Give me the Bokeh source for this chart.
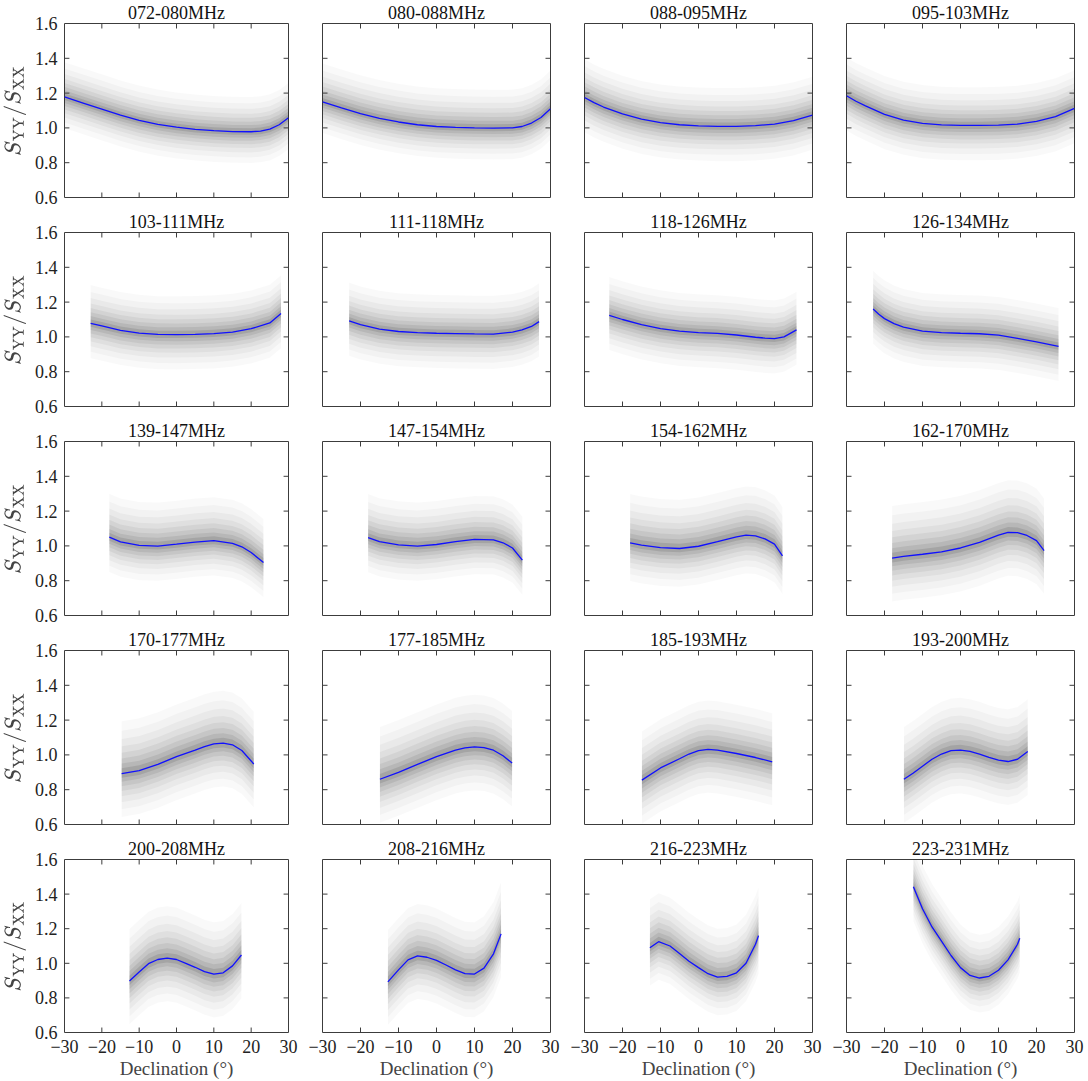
from bokeh.plotting import figure
from bokeh.layouts import gridplot
from bokeh.models import LinearAxis, FixedTicker, Range1d, PrintfTickFormatter
from bokeh.embed import file_html
from bokeh.resources import INLINE

# Frequency sub-bands, one panel each
bands = [
    "072-080MHz", "080-088MHz", "088-095MHz", "095-103MHz",
    "103-111MHz", "111-118MHz", "118-126MHz", "126-134MHz",
    "139-147MHz", "147-154MHz", "154-162MHz", "162-170MHz",
    "170-177MHz", "177-185MHz", "185-193MHz", "193-200MHz",
    "200-208MHz", "208-216MHz", "216-223MHz", "223-231MHz",
]

# Declinations (deg) at which the fitted ratio curve is sampled
fit_dec = [
    [-30, -25, -20, -15, -10, -5, 0, 5, 10, 15, 20, 22.5, 25, 27.5, 30],
    [-30, -25, -20, -15, -10, -5, 0, 5, 10, 15, 20, 22.5, 25, 27.5, 30],
    [-30, -27.5, -25, -20, -15, -10, -5, 0, 5, 10, 15, 20, 25, 30],
    [-30, -27.5, -25, -20, -15, -10, -5, 0, 5, 10, 15, 20, 25, 30],
    [-23, -20, -15, -10, -5, 0, 5, 10, 15, 20, 25, 28],
    [-23, -20, -15, -10, -5, 0, 5, 10, 15, 20, 22.5, 25, 27],
    [-23.5, -20, -15, -10, -5, 0, 5, 10, 15, 17.5, 20, 22.5, 25.8],
    [-23, -21.5, -20, -17.5, -15, -10, -5, 0, 5, 10, 15, 20, 25.8],
    [-18, -15, -10, -5, 0, 5, 10, 15, 17.5, 20, 23.3],
    [-18, -15, -10, -5, 0, 5, 10, 15, 17.5, 20, 22.6],
    [-18, -15, -10, -5, 0, 5, 10, 12.5, 15, 17.5, 20, 22.1],
    [-18, -15, -10, -5, 0, 5, 10, 12.5, 15, 17.5, 20, 22],
    [-14.7, -10, -5, 0, 5, 7.5, 10, 12.5, 15, 17.5, 20.7],
    [-14.9, -10, -5, 0, 5, 7.5, 10, 12.5, 15, 17.5, 19.9],
    [-14.9, -10, -5, -2.5, 0, 2.5, 5, 10, 15, 19.4],
    [-14.9, -12.5, -10, -7.5, -5, -2.5, 0, 2.5, 5, 7.5, 10, 12.5, 15, 17.7],
    [-12.6, -10, -7.5, -5, -2.5, 0, 2.5, 5, 7.5, 10, 12.5, 15, 17.4],
    [-12.8, -10, -7.5, -5, -2.5, 0, 2.5, 5, 7.5, 10, 12.5, 15, 17],
    [-12.8, -10.5, -7.5, -5, -2.5, 0, 2.5, 5, 7.5, 10, 12.5, 15, 15.8],
    [-12.4, -10, -7.5, -5, -2.5, 0, 2.5, 5, 7.5, 10, 12.5, 15, 15.6],
]

# Fitted S_YY / S_XX ratio at those declinations
fit_ratio = [
    [1.178, 1.143, 1.108, 1.073, 1.043, 1.020, 1.004, 0.992, 0.984, 0.979, 0.978, 0.982, 0.993, 1.018, 1.058],
    [1.150, 1.115, 1.082, 1.055, 1.034, 1.018, 1.008, 1.003, 1.000, 0.999, 1.000, 1.008, 1.028, 1.060, 1.110],
    [1.175, 1.145, 1.120, 1.080, 1.050, 1.030, 1.018, 1.012, 1.009, 1.009, 1.013, 1.022, 1.042, 1.074],
    [1.185, 1.153, 1.127, 1.078, 1.045, 1.026, 1.017, 1.014, 1.014, 1.016, 1.022, 1.038, 1.065, 1.112],
    [1.078, 1.063, 1.038, 1.022, 1.014, 1.013, 1.015, 1.019, 1.028, 1.047, 1.080, 1.135],
    [1.092, 1.070, 1.045, 1.031, 1.025, 1.021, 1.019, 1.017, 1.016, 1.027, 1.040, 1.060, 1.088],
    [1.124, 1.100, 1.070, 1.048, 1.033, 1.025, 1.020, 1.011, 0.998, 0.993, 0.990, 1.000, 1.040],
    [1.160, 1.130, 1.105, 1.076, 1.056, 1.033, 1.025, 1.021, 1.018, 1.010, 0.992, 0.972, 0.946],
    [1.050, 1.023, 1.003, 0.999, 1.010, 1.022, 1.030, 1.015, 0.995, 0.962, 0.905],
    [1.048, 1.024, 1.006, 0.999, 1.008, 1.024, 1.037, 1.035, 1.018, 0.988, 0.918],
    [1.018, 1.004, 0.990, 0.985, 0.998, 1.024, 1.052, 1.062, 1.058, 1.040, 1.010, 0.943],
    [0.930, 0.940, 0.952, 0.966, 0.988, 1.020, 1.062, 1.078, 1.076, 1.060, 1.030, 0.973],
    [0.893, 0.910, 0.945, 0.990, 1.028, 1.048, 1.063, 1.068, 1.058, 1.025, 0.948],
    [0.860, 0.900, 0.945, 0.990, 1.028, 1.040, 1.046, 1.042, 1.027, 0.995, 0.953],
    [0.855, 0.925, 0.978, 1.005, 1.025, 1.032, 1.028, 1.008, 0.985, 0.960],
    [0.860, 0.895, 0.935, 0.975, 1.005, 1.024, 1.028, 1.020, 1.005, 0.986, 0.970, 0.962, 0.975, 1.020],
    [0.898, 0.950, 0.998, 1.022, 1.030, 1.022, 1.000, 0.977, 0.952, 0.937, 0.945, 0.985, 1.048],
    [0.893, 0.962, 1.020, 1.043, 1.035, 1.017, 0.990, 0.962, 0.940, 0.938, 0.972, 1.055, 1.170],
    [1.090, 1.125, 1.100, 1.057, 1.012, 0.975, 0.940, 0.920, 0.924, 0.945, 1.000, 1.110, 1.160],
    [1.443, 1.315, 1.210, 1.128, 1.045, 0.975, 0.930, 0.915, 0.925, 0.960, 1.020, 1.110, 1.145],
]

# Extent of the measured-source scatter above and below the fit
scatter_up = [0.20, 0.22, 0.22, 0.22, 0.22, 0.22, 0.22, 0.22,
              0.25, 0.25, 0.28, 0.30, 0.30, 0.30, 0.28, 0.30,
              0.30, 0.30, 0.28, 0.25]
scatter_down = [0.18, 0.18, 0.20, 0.20, 0.20, 0.20, 0.20, 0.20,
                0.20, 0.20, 0.22, 0.25, 0.25, 0.25, 0.25, 0.25,
                0.25, 0.25, 0.22, 0.20]

x_ticks = [-30, -20, -10, 0, 10, 20, 30]
y_ticks = [0.6, 0.8, 1.0, 1.2, 1.4, 1.6]

SERIF = "Liberation Serif"
FRAME = "#3c3c3c"
N_ROWS, N_COLS = 5, 4
FRAME_W, FRAME_H = 228, 174
X0, X1, Y0, Y1 = -30, 30, 0.6, 1.6
TICK_PX = 5

# density shells for the scatter haze: (fraction of extent, alpha)
shells = [(1.0, 0.022), (0.82, 0.028), (0.66, 0.034), (0.52, 0.04),
          (0.40, 0.05), (0.29, 0.06), (0.19, 0.075), (0.10, 0.10)]


def label_axis(ticks, overrides=None, formatter=None):
    ax = LinearAxis(ticker=FixedTicker(ticks=ticks))
    ax.axis_line_color = None
    ax.major_tick_in = 0
    ax.major_tick_out = 0
    ax.minor_tick_in = 0
    ax.minor_tick_out = 0
    ax.major_label_text_font = SERIF
    ax.major_label_text_font_size = "18px"
    ax.major_label_text_color = "#222222"
    ax.major_label_standoff = 7
    if overrides:
        ax.major_label_overrides = overrides
    if formatter is not None:
        ax.formatter = formatter
    return ax


def inward_ticks(p):
    # tick marks pointing into the frame on all four sides
    dy = TICK_PX / FRAME_H * (Y1 - Y0)
    dx = TICK_PX / FRAME_W * (X1 - X0)
    inner_x = [t for t in x_ticks if X0 < t < X1]
    inner_y = [t for t in y_ticks if Y0 < t < Y1]
    kw = dict(line_color=FRAME, line_width=1)
    p.segment(x0=inner_x, y0=[Y0] * len(inner_x), x1=inner_x, y1=[Y0 + dy] * len(inner_x), **kw)
    p.segment(x0=inner_x, y0=[Y1] * len(inner_x), x1=inner_x, y1=[Y1 - dy] * len(inner_x), **kw)
    p.segment(x0=[X0] * len(inner_y), y0=inner_y, x1=[X0 + dx] * len(inner_y), y1=inner_y, **kw)
    p.segment(x0=[X1] * len(inner_y), y0=inner_y, x1=[X1 - dx] * len(inner_y), y1=inner_y, **kw)


x_over = {t: (("\u2212" + str(-t)) if t < 0 else str(t)) for t in x_ticks}

rows = []
for r in range(N_ROWS):
    row = []
    for c in range(N_COLS):
        i = r * N_COLS + c
        left_b = 60 if c == 0 else 17
        right_b = 14 if c == N_COLS - 1 else 17
        top_b = 23
        bottom_b = 48 if r == N_ROWS - 1 else 12
        p = figure(
            width=left_b + FRAME_W + right_b,
            height=top_b + FRAME_H + bottom_b,
            x_range=Range1d(X0, X1), y_range=Range1d(Y0, Y1),
            x_axis_location=None, y_axis_location=None,
            output_backend="svg", toolbar_location=None,
            min_border_left=left_b, min_border_right=right_b,
            min_border_top=top_b, min_border_bottom=bottom_b,
        )
        p.grid.visible = False
        p.outline_line_color = FRAME
        p.outline_line_width = 1
        p.background_fill_color = "white"
        p.border_fill_color = "white"

        p.title.text = bands[i]
        p.title.align = "center"
        p.title.text_font = SERIF
        p.title.text_font_style = "normal"
        p.title.text_font_size = "18px"
        p.title.text_color = "#111111"
        p.title.standoff = 1

        if r == N_ROWS - 1:
            bottom = label_axis(x_ticks, overrides=x_over)
            bottom.axis_label = "Declination (\u00b0)"
            bottom.axis_label_text_font = SERIF
            bottom.axis_label_text_font_style = "normal"
            bottom.axis_label_text_font_size = "19px"
            bottom.axis_label_standoff = 2
            p.add_layout(bottom, "below")
        if c == 0:
            left = label_axis(y_ticks, formatter=PrintfTickFormatter(format="%.1f"))
            left.axis_label = r"$$S_{\mathrm{YY}}/S_{\mathrm{XX}}$$"
            left.axis_label_text_font_size = "18px"
            left.axis_label_standoff = 6
            p.add_layout(left, "left")

        xs = fit_dec[i]
        ys = fit_ratio[i]
        for frac, alpha in shells:
            lo = [y - frac * scatter_down[i] for y in ys]
            hi = [y + frac * scatter_up[i] for y in ys]
            p.varea(x=xs, y1=lo, y2=hi, fill_color="#000000", fill_alpha=alpha)
        p.line(xs, ys, line_color="#1010ff", line_width=1.3)
        inward_ticks(p)
        row.append(p)
    rows.append(row)

grid = gridplot(rows, toolbar_location=None)

open("out.html", "w").write(file_html(grid, INLINE))
